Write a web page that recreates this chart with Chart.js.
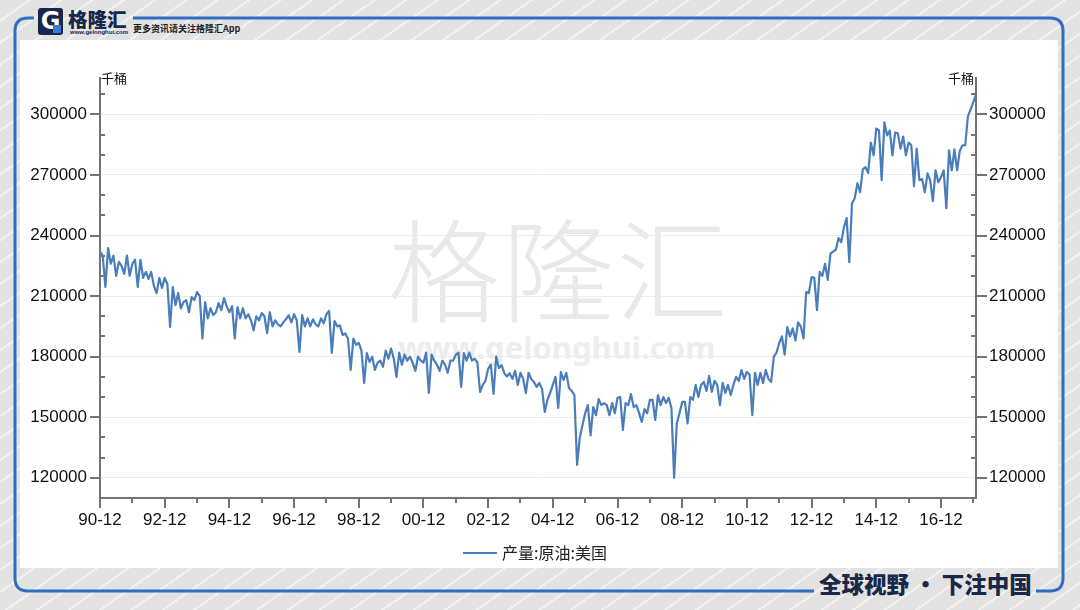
<!DOCTYPE html>
<html><head><meta charset="utf-8">
<script src="https://cdn.jsdelivr.net/npm/chart.js@4/dist/chart.umd.min.js"></script>
<style>
html,body{margin:0;padding:0;width:1080px;height:610px;overflow:hidden;background:#e3e3e3}
#bg{position:absolute;left:0;top:0;width:1080px;height:610px;
 background:repeating-linear-gradient(145deg,#e2e2e2 0px,#e2e2e2 16px,#f1f1f1 16px,#f1f1f1 18px)}
#panel{position:absolute;left:20px;top:40px;width:1038px;height:528px;background:#fff}
svg{position:absolute;left:0;top:0}
.wm1{position:absolute;left:388px;top:184px;font:300 112px "Noto Sans CJK SC";color:#e9e9e9;letter-spacing:2px;white-space:nowrap}
.wm2{position:absolute;left:398px;top:326px;font:700 31px "Noto Sans";color:#ededed;white-space:nowrap}
#logo{position:absolute;left:38px;top:8px;width:25px;height:27px;background:#17264a;border-radius:3px;color:#fff;font:900 24px "DejaVu Sans";line-height:27px;text-align:center;overflow:hidden}
#logo span{position:absolute;right:2px;bottom:2px;width:8px;height:8px;background:#3a7bd5}
#brand{position:absolute;left:68px;top:4px;font:900 19.5px "Noto Sans CJK SC";color:#17264a;white-space:nowrap}
#url{position:absolute;left:70px;top:29px;font:700 6px "Liberation Sans";color:#17264a;white-space:nowrap}
#tip{position:absolute;left:133px;top:22px;font:700 9px "Noto Sans CJK SC";color:#1e1e1e;white-space:nowrap}
#slogan{position:absolute;left:819px;top:567px;font:900 22.5px "Noto Sans CJK SC";color:#1a2746;white-space:nowrap}
canvas{position:absolute;left:0;top:0}
</style></head>
<body>
<div id="bg"></div>
<svg width="1080" height="610">
 <path d="M133 18 H1050 Q1063 18 1063 31 V578 Q1063 591 1050 591 H1036" fill="none" stroke="#2f6fc0" stroke-width="3"/>
 <path d="M814 591 H28 Q15 591 15 578 V31 Q15 18 28 18 H34" fill="none" stroke="#2f6fc0" stroke-width="3"/>
</svg>
<div id="panel"></div>
<div class="wm1">格隆汇</div>
<div class="wm2">www.gelonghui.com</div>
<div id="logo">G<span></span></div>
<div id="brand">格隆汇</div>
<div id="url">www.gelonghui.com</div>
<div id="tip">更多资讯请关注格隆汇App</div>
<div id="slogan">全球视野 • 下注中国</div>
<canvas id="c" width="1080" height="610"></canvas>
<script>
// ---- data (千桶, monthly) ----
const d1990 = [232000]; // Dec
const d1991 = [230000, 214500, 233700, 226000, 230000, 220000, 227000, 225000, 221000, 230000, 220000, 226000];
const d1992 = [228000, 214500, 228000, 219000, 222000, 218500, 222000, 215000, 211500, 219000, 214000, 219000];
const d1993 = [216000, 194700, 214500, 205500, 211500, 204000, 207000, 208000, 202000, 209500, 208000, 212000];
const d1994 = [210000, 189000, 207000, 199000, 204000, 200600, 202000, 206500, 203000, 209000, 205000, 202000];
const d1995 = [205000, 189000, 204500, 199000, 204000, 199000, 201000, 198000, 193000, 200000, 198000, 201600];
const d1996 = [200000, 191700, 202000, 195000, 198000, 196000, 195000, 197000, 198500, 200600, 197000, 201000];
const d1997 = [198000, 182300, 200600, 195000, 199000, 195000, 198500, 196000, 195000, 199000, 196500, 201000];
const d1998 = [202600, 181800, 197600, 195000, 195500, 190700, 191500, 189000, 173400, 189000, 185800, 186800];
const d1999 = [183000, 167000, 181800, 177400, 180000, 173400, 177000, 178000, 175000, 183000, 179000, 184000];
const d2000 = [179000, 170000, 182000, 176000, 181000, 178000, 180000, 177000, 173000, 180000, 178000, 177000];
const d2001 = [182000, 162000, 181000, 178000, 176000, 173000, 178000, 176000, 172000, 178000, 178000, 181000];
const d2002 = [182000, 165000, 181800, 178000, 182000, 178000, 179000, 177000, 162500, 166000, 168000, 174000];
const d2003 = [176000, 161500, 180000, 174400, 175800, 171800, 170200, 171800, 169000, 173000, 166000, 172000];
const d2004 = [169000, 162000, 172000, 169000, 167500, 165000, 167000, 164000, 152600, 158600, 162000, 166000];
const d2005 = [170000, 154600, 172400, 168500, 172000, 164500, 163000, 161000, 126400, 140000, 146000, 152000];
const d2006 = [156000, 141000, 155000, 151000, 159000, 156000, 157000, 156000, 151000, 157000, 152000, 159600];
const d2007 = [160000, 143700, 157000, 156000, 161500, 155000, 156000, 152000, 147700, 154000, 152000, 158600];
const d2008 = [158600, 148700, 161000, 156000, 160000, 157000, 159600, 154600, 120000, 147000, 152000, 157600];
const d2009 = [157600, 147000, 160000, 158600, 166000, 160000, 166000, 167500, 163000, 170500, 162600, 168000];
const d2010 = [166000, 156000, 167000, 162000, 166000, 161000, 166000, 170000, 168000, 173400, 169000, 172400];
const d2011 = [171000, 151000, 172000, 166000, 172000, 167000, 173400, 169000, 167500, 180000, 182000, 186800];
const d2012 = [190000, 181000, 194700, 190000, 194000, 188000, 197000, 195000, 189000, 212000, 211500, 219400];
const d2013 = [219000, 203000, 222000, 220000, 226000, 218000, 231000, 232000, 233000, 238700, 236700, 244000];
const d2014 = [248600, 226800, 256000, 258500, 265900, 261400, 272800, 273800, 271000, 286000, 279700, 293000];
const d2015 = [292000, 267400, 296000, 289600, 292000, 279700, 291000, 290600, 283000, 289000, 279700, 286000];
const d2016 = [284700, 264400, 283000, 267400, 268000, 261400, 270800, 267400, 257000, 272300, 266400, 268800];
const d2017 = [272300, 253500, 282200, 272300, 282700, 272300, 282000, 284700, 284700, 299000, 302500, 306000];
const d2018 = [310000]; // Jan

const seriesName = '产量:原油:美国';
const unitLabel = '千桶';
const xTickLabels = ['90-12','92-12','94-12','96-12','98-12','00-12','02-12','04-12','06-12','08-12','10-12','12-12','14-12','16-12'];
const yTickValues = [120000,150000,180000,210000,240000,270000,300000];
const yMinorValues = [130000,140000,160000,170000,190000,200000,220000,230000,250000,260000,280000,290000,310000];

const production = [].concat(d1990,d1991,d1992,d1993,d1994,d1995,d1996,d1997,d1998,d1999,d2000,
  d2001,d2002,d2003,d2004,d2005,d2006,d2007,d2008,d2009,d2010,d2011,d2012,d2013,d2014,d2015,d2016,d2017,d2018);

// month categories, starting 1990-12
const months = [];
{ let y = 1990, m = 12;
  for (let i = 0; i < production.length; i++) {
    months.push(String(y % 100).padStart(2,'0') + '-' + String(m).padStart(2,'0'));
    m++; if (m > 12) { m = 1; y++; }
  } }

const axisColor = '#737373';
const lineColor = '#4a7ebb';
const numFont = {family: '"Liberation Sans", Arial, sans-serif', size: 17};

const decor = {
  id: 'decor',
  afterDraw(chart) {
    const ctx = chart.ctx, xs = chart.scales.x, yl = chart.scales.y;
    const a = chart.chartArea;
    ctx.save();
    ctx.strokeStyle = axisColor; ctx.lineWidth = 2; ctx.lineCap = 'butt';
    ctx.beginPath();
    for (let i = 0; i < months.length; i += 12) {
      const px = Math.round(xs.getPixelForValue(i));
      const len = (i % 24 === 0) ? 10 : 5;
      ctx.moveTo(px, a.bottom); ctx.lineTo(px, a.bottom + len);
    }
    yTickValues.forEach(v => {
      const py = Math.round(yl.getPixelForValue(v));
      ctx.moveTo(a.left - 10, py); ctx.lineTo(a.left, py);
      ctx.moveTo(a.right, py); ctx.lineTo(a.right + 11, py);
    });
    yMinorValues.forEach(v => {
      const py = Math.round(yl.getPixelForValue(v));
      ctx.moveTo(a.left, py); ctx.lineTo(a.left + 5, py);
      ctx.moveTo(a.right - 5, py); ctx.lineTo(a.right, py);
    });
    ctx.stroke();
    // unit labels
    ctx.fillStyle = '#111';
    ctx.font = '13px "Noto Sans CJK SC"';
    ctx.textBaseline = 'middle';
    ctx.textAlign = 'left'; ctx.fillText(unitLabel, a.left + 1, a.top);
    ctx.textAlign = 'right'; ctx.fillText(unitLabel, a.right - 2, a.top);
    // legend
    const ly = 553;
    ctx.strokeStyle = chart.data.datasets[0].borderColor; ctx.lineWidth = 2.2;
    ctx.beginPath(); ctx.moveTo(463, ly); ctx.lineTo(497, ly); ctx.stroke();
    ctx.fillStyle = '#222'; ctx.font = '16px "Noto Sans CJK SC"';
    ctx.textAlign = 'left'; ctx.fillText(chart.data.datasets[0].label, 502, ly);
    ctx.restore();
  }
};

const yCommon = {
  min: 110000, max: 318000,
  afterBuildTicks: s => { s.ticks = yTickValues.map(v => ({value: v})); },
  ticks: {padding: 13, color: '#111', font: numFont, callback: v => String(v)},
  border: {display: true, color: axisColor, width: 2}
};

new Chart(document.getElementById('c'), {
  type: 'line',
  data: {
    labels: months,
    datasets: [{label: seriesName, data: production, borderColor: lineColor, borderWidth: 2.2,
      pointRadius: 0, tension: 0, fill: false, borderJoinStyle: 'round'}]
  },
  options: {
    responsive: false, animation: false, devicePixelRatio: 1,
    layout: {padding: {top: 78, left: 0, right: 0, bottom: 0}},
    plugins: {legend: {display: false}, tooltip: {enabled: false}},
    scales: {
      x: {type: 'category', offset: false,
        grid: {display: false, drawTicks: false},
        border: {display: true, color: axisColor, width: 2},
        ticks: {autoSkip: false, maxRotation: 0, minRotation: 0, padding: 12, color: '#111', font: numFont,
          callback: (v, i) => (i % 24 === 0 ? xTickLabels[i / 24] : '')},
        afterFit: s => { s.height = 112; }},
      y: Object.assign({}, yCommon, {position: 'left',
        grid: {color: '#ececec', lineWidth: 1, drawTicks: false},
        afterFit: s => { s.width = 100; }}),
      y1: Object.assign({}, yCommon, {position: 'right',
        grid: {drawOnChartArea: false, drawTicks: false},
        afterFit: s => { s.width = 104; }})
    }
  },
  plugins: [decor]
});
</script>
</body></html>
